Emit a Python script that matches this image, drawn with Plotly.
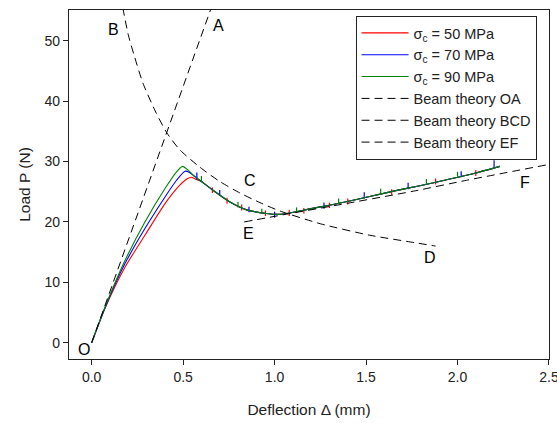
import plotly.graph_objects as go

# ---------------- data ----------------
delta_50 = [0.0, 0.073, 0.182, 0.291, 0.40, 0.473, 0.52, 0.546, 0.575,
            0.60, 0.665, 0.756, 0.847, 0.956, 1.02, 1.066, 1.20, 1.339, 1.52, 1.65, 1.794, 1.958, 2.10, 2.232]
load_50 = [0.0, 5.7, 12.5, 17.8, 23.0, 25.8, 27.1, 27.4, 27.0,
           26.7, 25.2, 23.3, 22.0, 21.4, 21.25, 21.4, 22.2, 23.0, 24.2, 25.1, 26.0, 27.1, 28.1, 29.2]

delta_70 = [0.0, 0.073, 0.182, 0.291, 0.40, 0.464, 0.51, 0.535, 0.56,
            0.60, 0.665, 0.756, 0.847, 0.956, 1.02, 1.066, 1.20, 1.339, 1.52, 1.65, 1.794, 1.958, 2.10, 2.232]
load_70 = [0.0, 5.8, 13.1, 18.9, 24.1, 26.9, 28.4, 28.2, 27.6,
           26.7, 25.2, 23.3, 22.0, 21.4, 21.25, 21.4, 22.2, 23.0, 24.2, 25.1, 26.0, 27.1, 28.1, 29.2]

delta_90 = [0.0, 0.073, 0.182, 0.291, 0.40, 0.464, 0.497, 0.53, 0.56,
            0.60, 0.665, 0.756, 0.847, 0.956, 1.02, 1.066, 1.20, 1.339, 1.52, 1.65, 1.794, 1.958, 2.10, 2.232]
load_90 = [0.0, 5.9, 13.6, 20.0, 25.5, 28.3, 29.2, 28.5, 27.6,
           26.7, 25.2, 23.3, 22.0, 21.4, 21.25, 21.4, 22.2, 23.0, 24.2, 25.1, 26.0, 27.1, 28.1, 29.2]

# small vertical noise marks on the measured curves: (delta, low, high)
spikes_50 = [(0.66, 24.8, 25.7), (0.74, 23.0, 24.0), (0.82, 21.9, 22.9), (0.95, 21.0, 21.9), (1.08, 21.0, 22.0),
             (1.16, 21.4, 22.3), (1.30, 22.3, 23.2), (1.40, 22.9, 23.9), (1.64, 24.5, 25.4), (1.88, 26.2, 27.2),
             (2.10, 27.6, 28.6)]
spikes_70 = [(0.575, 27.0, 28.2), (0.70, 24.3, 25.3), (0.86, 21.6, 22.5), (1.00, 20.7, 21.7),
             (1.27, 22.2, 23.2), (1.49, 23.9, 24.9), (1.73, 25.4, 26.5), (2.02, 27.4, 28.4), (2.20, 28.9, 30.2)]
spikes_90 = [(0.60, 26.6, 27.6), (0.80, 22.4, 23.3), (0.93, 21.4, 22.2), (1.12, 21.6, 22.4),
             (1.35, 23.0, 23.9), (1.58, 24.6, 25.5), (1.83, 26.3, 27.1), (2.00, 27.5, 28.3)]

oa_delta = [0.0, 0.66]
oa_load = [0.0, 56.0]

bcd_delta = [0.17, 0.20, 0.23, 0.28, 0.35, 0.41, 0.48, 0.59, 0.70, 0.81, 0.92, 1.03, 1.25, 1.52, 1.78, 1.88]
bcd_load = [55.5, 51.0, 47.8, 43.0, 38.2, 34.8, 32.0, 29.1, 26.7, 24.8, 23.2, 21.8, 19.7, 17.8, 16.5, 16.0]

ef_delta = [0.834, 1.05, 1.40, 1.76, 2.05, 2.60]
ef_load = [20.0, 21.2, 23.1, 25.1, 26.9, 30.1]

point_labels = ["A", "B", "C", "D", "E", "F", "O"]
label_delta = [0.694, 0.12, 0.865, 1.849, 0.856, 2.368, -0.044]
label_load = [52.6, 51.8, 26.8, 14.1, 18.1, 26.45, -1.2]

x_ticks = [0.0, 0.5, 1.0, 1.5, 2.0, 2.5]
y_ticks = [0, 10, 20, 30, 40, 50]

FONT = "Liberation Sans, Arial, sans-serif"
DASH = "8px,5px"

fig = go.Figure()


def spike_trace(spikes, color):
    xs, ys = [], []
    for d, lo, hi in spikes:
        xs += [d, d, None]
        ys += [lo, hi, None]
    return go.Scatter(x=xs, y=ys, mode="lines", line=dict(color=color, width=1.2),
                      showlegend=False, hoverinfo="skip")


for d, l, sp, col, name in [
    (delta_50, load_50, spikes_50, "#ff0000", "σ<sub>c</sub> = 50 MPa"),
    (delta_70, load_70, spikes_70, "#0000ff", "σ<sub>c</sub> = 70 MPa"),
    (delta_90, load_90, spikes_90, "#008000", "σ<sub>c</sub> = 90 MPa"),
]:
    fig.add_trace(go.Scatter(x=d, y=l, mode="lines", name=name, legendgroup=name,
                             line=dict(color=col, width=1.1, shape="spline", smoothing=0.6)))
    fig.add_trace(spike_trace(sp, col))

for d, l, name in [
    (oa_delta, oa_load, "Beam theory OA"),
    (bcd_delta, bcd_load, "Beam theory BCD"),
    (ef_delta, ef_load, "Beam theory EF"),
]:
    fig.add_trace(go.Scatter(x=d, y=l, mode="lines", name=name, legendgroup=name,
                             line=dict(color="black", width=1, dash=DASH, shape="spline", smoothing=0.6)))

for t, xd, yd in zip(point_labels, label_delta, label_load):
    fig.add_annotation(x=xd, y=yd, text=t, showarrow=False, xref="x", yref="y",
                       font=dict(family=FONT, size=16, color="black"))

fig.update_layout(
    width=557, height=423,
    margin=dict(l=69, r=8, t=10, b=64, autoexpand=False),
    paper_bgcolor="white", plot_bgcolor="white",
    font=dict(family=FONT, size=14, color="#222222"),
    showlegend=True,
    legend=dict(x=0.597, y=0.983, xanchor="left", yanchor="top",
                bgcolor="white", bordercolor="#222222", borderwidth=1,
                font=dict(family=FONT, size=14.5, color="#222222"),
                itemwidth=47,
                tracegroupgap=0, traceorder="grouped"),
)

fig.update_xaxes(range=[-0.124, 2.5002], tickvals=x_ticks, tickformat=".1f",
                 ticklabeloverflow="allow", automargin=False,
                 showline=True, linecolor="#222222", linewidth=1.3, mirror=True,
                 ticks="outside", ticklen=5, tickcolor="#222222", showgrid=False, zeroline=False,
                 tickfont=dict(family=FONT, size=14, color="#222222"),
                 title=dict(text="Deflection Δ (mm)", font=dict(family=FONT, size=15.5, color="#222222"), standoff=20))
fig.update_yaxes(range=[-2.7, 55.1], tickvals=y_ticks, automargin=False,
                 showline=True, linecolor="#222222", linewidth=1.3, mirror=True,
                 ticks="outside", ticklen=5, tickcolor="#222222", showgrid=False, zeroline=False,
                 tickfont=dict(family=FONT, size=14, color="#222222"),
                 title=dict(text="Load P (N)", font=dict(family=FONT, size=15.5, color="#222222"), standoff=10))

fig.write_html("out.html")
